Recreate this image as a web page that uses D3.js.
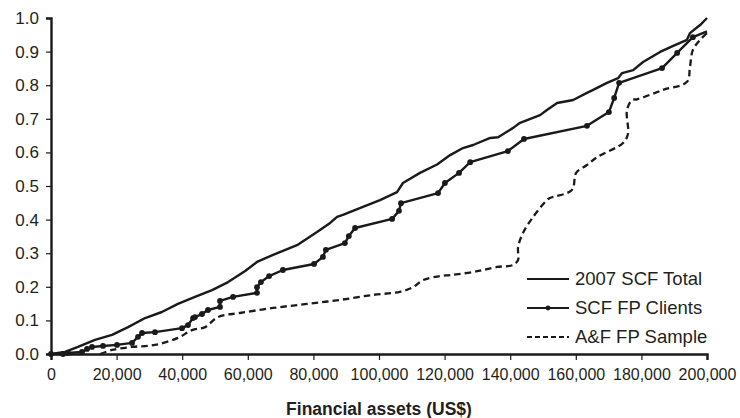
<!DOCTYPE html>
<html><head><meta charset="utf-8">
<script src="https://cdn.jsdelivr.net/npm/d3@7"></script>
<style>
body{margin:0;background:#fff;}
svg text{font-family:"Liberation Sans",Arial,Helvetica,sans-serif;fill:#231f20;}
</style></head>
<body><svg id="c" width="740" height="418"></svg>
<script>
const xTicks = [0,20000,40000,60000,80000,100000,120000,140000,160000,180000,200000];
const yTicks = [0,0.1,0.2,0.3,0.4,0.5,0.6,0.7,0.8,0.9,1.0];
const seriesNames = ["2007 SCF Total","SCF FP Clients","A&F FP Sample"];
const xTitle = "Financial assets (US$)";

const totalX = [0,4270,8230,13400,18600,23500,28700,33800,38700,43900,49100,54000,59200,62800,67700,75000,81100,85100,87200,89000,95100,100300,105500,107300,112500,117700,121700,125600,128700,133900,136300,140900,143000,149100,151200,154300,159200,163400,165300,169500,172900,174100,177500,180500,185700,189700,193900,194800,197900,200000];
const totalY = [0,0.006,0.021,0.042,0.057,0.080,0.107,0.125,0.149,0.170,0.190,0.214,0.247,0.274,0.295,0.324,0.363,0.390,0.408,0.414,0.438,0.458,0.482,0.509,0.539,0.564,0.592,0.613,0.622,0.643,0.645,0.673,0.688,0.711,0.726,0.747,0.756,0.777,0.786,0.807,0.821,0.836,0.845,0.869,0.899,0.917,0.935,0.955,0.979,1.0];

const clientsX = [0,3660,5180,9450,10980,12500,15850,20120,24700,26530,27750,31700,39940,41770,43300,43900,46040,47870,51530,51530,55500,62800,62800,64000,66500,70700,80200,82900,83800,89600,90800,92700,104000,106100,106700,118000,120100,124400,127800,139300,144200,163400,170100,171700,173200,186300,190900,195700,200000];
const clientsY = [0,0.0,0.003,0.006,0.015,0.021,0.024,0.027,0.033,0.051,0.0625,0.065,0.077,0.086,0.107,0.110,0.119,0.131,0.140,0.158,0.170,0.182,0.199,0.214,0.232,0.25,0.268,0.289,0.31,0.33,0.351,0.375,0.402,0.426,0.449,0.479,0.509,0.539,0.571,0.604,0.640,0.679,0.720,0.762,0.807,0.851,0.896,0.943,0.96];

const afX = [15000,18600,24700,31700,38700,43000,47000,50900,57600,67700,78000,88100,98200,106400,110400,113400,118600,121700,128700,131700,136000,140900,142400,142400,143900,147000,151200,152100,158800,160100,163400,166500,174400,175900,175600,177200,178700,186600,193900,194800,195700,197900,200000];
const afY = [0,0.012,0.021,0.027,0.048,0.071,0.080,0.110,0.122,0.137,0.149,0.161,0.176,0.185,0.199,0.220,0.232,0.235,0.244,0.25,0.259,0.265,0.28,0.318,0.36,0.408,0.458,0.464,0.488,0.539,0.5625,0.586,0.628,0.655,0.726,0.756,0.758,0.786,0.81,0.854,0.905,0.935,0.955];

const svg = d3.select("#c");
const ink = "#1a1a1a";
const x = d3.scaleLinear().domain([0,200000]).range([51,707]);
const y = d3.scaleLinear().domain([0,1]).range([354,18]);

// axes
const xa = svg.append("g").attr("transform","translate(0,354)")
  .call(d3.axisBottom(x).tickValues(xTicks).tickSize(6).tickPadding(9).tickFormat(d3.format(",")));
xa.select(".domain").attr("stroke",ink).attr("stroke-width",2.4);
xa.selectAll(".tick line").attr("stroke",ink).attr("stroke-width",1.2);
xa.selectAll("text").style("font-size","16px").attr("fill","#231f20");

const ya = svg.append("g").attr("transform","translate(51,0)")
  .call(d3.axisLeft(y).tickValues(yTicks).tickSize(5).tickPadding(7).tickFormat(d3.format(".1f")));
ya.select(".domain").attr("stroke",ink).attr("stroke-width",2.4);
ya.selectAll(".tick line").attr("stroke",ink).attr("stroke-width",1.2);
ya.selectAll("text").style("font-size","17px").attr("fill","#231f20");

svg.append("text").attr("x",379).attr("y",415).attr("text-anchor","middle")
  .style("font-size","17.5px").style("font-weight","bold").text(xTitle);

const line = d3.line().x(d=>x(d[0])).y(d=>y(d[1]));
const smooth = d3.line().x(d=>x(d[0])).y(d=>y(d[1])).curve(d3.curveCatmullRom.alpha(0.5));

const tot = totalX.map((v,i)=>[v,totalY[i]]);
const cli = clientsX.map((v,i)=>[v,clientsY[i]]);
const af = afX.map((v,i)=>[v,afY[i]]);

svg.append("path").datum(af).attr("d",smooth).attr("fill","none").attr("stroke",ink)
  .attr("stroke-width",2.3).attr("stroke-dasharray","6.5,4");
svg.append("path").datum(tot).attr("d",line).attr("fill","none").attr("stroke",ink)
  .attr("stroke-width",2.4).attr("stroke-linejoin","round");
svg.append("path").datum(cli).attr("d",line).attr("fill","none").attr("stroke",ink)
  .attr("stroke-width",2.4).attr("stroke-linejoin","round");
svg.append("g").selectAll("circle").data(cli.slice(0,-1)).join("circle")
  .attr("cx",d=>x(d[0])).attr("cy",d=>y(d[1])).attr("r",2.9).attr("fill",ink);

// legend
const lg = svg.append("g");
seriesNames.forEach((name,i)=>{
  const yy = 279 + i*29;
  const l = lg.append("line").attr("x1",527).attr("x2",569).attr("y1",yy).attr("y2",yy)
    .attr("stroke",ink).attr("stroke-width", i===0?1.8:2.2);
  if(i===2) l.attr("stroke-dasharray","5,3").attr("stroke-width",1.8);
  if(i===1) lg.append("circle").attr("cx",548).attr("cy",yy).attr("r",2.4).attr("fill",ink);
  lg.append("text").attr("x",575).attr("y",yy+6).style("font-size","18.5px").text(name);
});
</script></body></html>
